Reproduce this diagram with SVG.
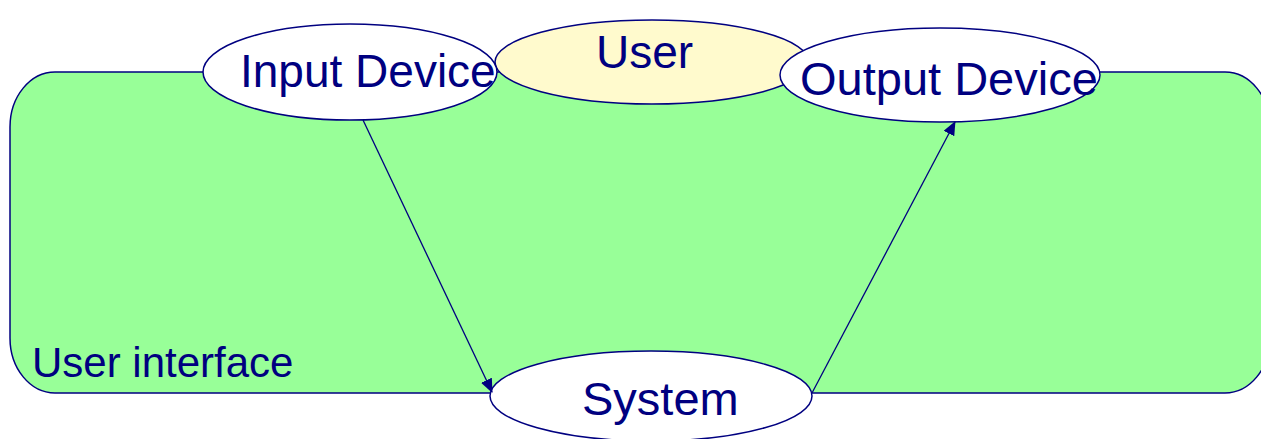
<svg xmlns="http://www.w3.org/2000/svg" width="1261" height="439" viewBox="0 0 1261 439">
<style>
.lbl{font-family:"Liberation Sans",Arial,sans-serif;fill:#000080}
.node{stroke:#000080;stroke-width:1.5}
.edge{stroke:#000080;stroke-width:1.3;fill:none}
</style>
<defs>
<marker id="ah" markerWidth="14" markerHeight="12" refX="13" refY="6" orient="auto" markerUnits="userSpaceOnUse">
<path d="M0,0 L14,6 L0,12 z" fill="#000080"/>
</marker>
</defs>
<rect width="1261" height="439" fill="#ffffff"/>
<g id="ui">
<rect x="10" y="72" width="1260" height="321" rx="45" ry="55" fill="#98FF98" class="node"/>
<text class="lbl" x="32" y="377" font-size="42">User interface</text>
</g>
<g id="user">
<ellipse cx="652" cy="62" rx="157" ry="42" fill="#FFFACD" class="node"/>
<text class="lbl" x="596" y="68" font-size="46">User</text>
</g>
<g id="input">
<ellipse cx="350" cy="72" rx="147" ry="48" fill="#ffffff" class="node"/>
<text class="lbl" x="240" y="87" font-size="46">Input Device</text>
</g>
<g id="output">
<ellipse cx="940" cy="75" rx="160" ry="47" fill="#ffffff" class="node"/>
<text class="lbl" x="800" y="95" font-size="47">Output Device</text>
</g>
<g id="system">
<ellipse cx="651" cy="396" rx="161" ry="45" fill="#ffffff" class="node"/>
<text class="lbl" x="582" y="415" font-size="47">System</text>
</g>
<g id="connectors">
<line class="edge" x1="363" y1="120" x2="492" y2="392" marker-end="url(#ah)"/>
<line class="edge" x1="812" y1="393" x2="955" y2="122" marker-end="url(#ah)"/>
</g>
</svg>
